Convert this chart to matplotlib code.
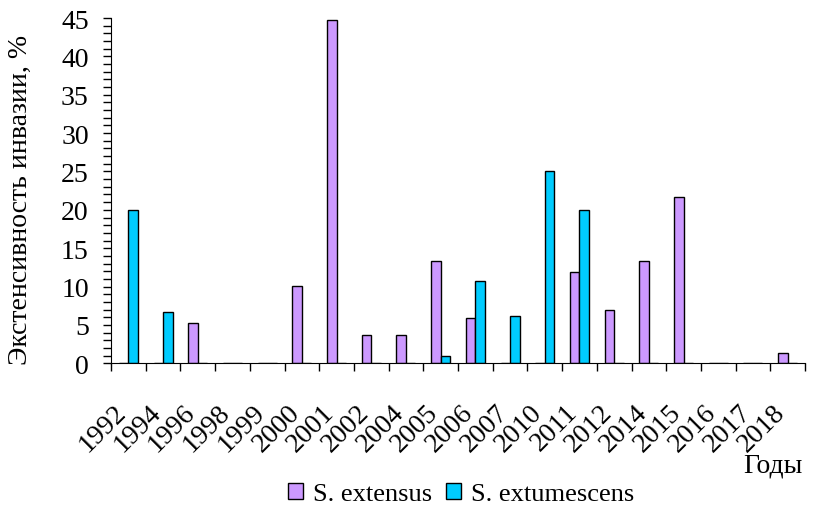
import numpy as np
import matplotlib
matplotlib.use("Agg")
import matplotlib.pyplot as plt
from matplotlib.ticker import MultipleLocator

plt.rcParams['font.family'] = ['Liberation Serif', 'DejaVu Serif']

years = ['1992', '1994', '1996', '1998', '1999', '2000', '2001', '2002', '2004', '2005',
         '2006', '2007', '2010', '2011', '2012', '2014', '2015', '2016', '2017', '2018']
extensus = [0, 0, 5.2, 0, 0, 10.1, 44.8, 3.7, 3.7, 13.3,
            5.9, 0, 0, 11.9, 7.0, 13.3, 21.7, 0, 0, 1.4]
extumescens = [20.0, 6.7, 0, 0, 0, 0, 0, 0, 0, 1.0,
               10.7, 6.2, 25.1, 20.0, 0, 0, 0, 0, 0, 0]

purple = '#CC99FF'
cyan = '#00CCFF'
fs = 20

fig = plt.figure(figsize=(8.14, 5.10), dpi=100)
ax = fig.add_axes([111 / 814, 1 - 364.3 / 510, 694 / 814, 345.3 / 510])

x = np.arange(len(years))
w = 0.275
ax.bar(x - w / 2, extensus, w, color=purple, edgecolor='black', linewidth=1.0,
       label='S. extensus')
ax.bar(x + w / 2, extumescens, w, color=cyan, edgecolor='black', linewidth=1.0,
       label='S. extumescens')

ax.set_xlim(-0.5, len(years) - 0.5)
ax.set_ylim(0, 45)

ax.spines['top'].set_visible(False)
ax.spines['right'].set_visible(False)

# y axis: labels every 5, small ticks every 1
ax.yaxis.set_major_locator(MultipleLocator(5))
ax.yaxis.set_minor_locator(MultipleLocator(1))
ax.tick_params(axis='y', which='both', direction='out', length=6, width=1.0,
               labelsize=fs, pad=10)

# x axis: tick marks between categories, labels shifted left of the centre
ax.set_xticks(x - 0.43, labels=years, rotation=45, ha='right', va='top',
              rotation_mode='anchor')
ax.set_xticks(np.arange(len(years) + 1) - 0.5, minor=True)
ax.tick_params(axis='x', which='major', length=0, labelsize=fs, pad=26)
ax.tick_params(axis='x', which='minor', direction='out', length=6, width=1.0)

fig.text(20 / 814, 1 - 200 / 510, 'Экстенсивность инвазии, %', rotation=90,
         ha='center', va='center', fontsize=fs)
fig.text(803 / 814, 1 - 472 / 510, 'Годы', ha='right', va='baseline', fontsize=fs)

fig.legend(loc='center', bbox_to_anchor=(461 / 814, 1 - 495 / 510), ncol=2,
           frameon=False, fontsize=19, handlelength=0.57, handleheight=0.57,
           handletextpad=0.38, columnspacing=0.53, borderpad=0)

fig.savefig('out.png', dpi=100)
